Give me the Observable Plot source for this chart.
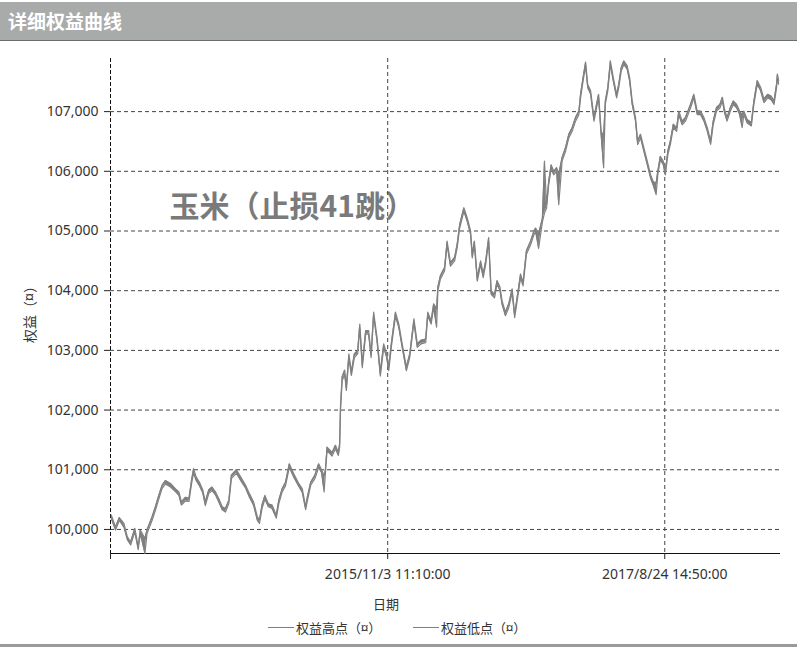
<!DOCTYPE html>
<html><head><meta charset="utf-8">
<script src="https://cdn.jsdelivr.net/npm/d3@7"></script>
<script src="https://cdn.jsdelivr.net/npm/@observablehq/plot@0.6"></script>
<style>
html,body{margin:0;padding:0;background:#fff}
body{width:797px;height:647px;overflow:hidden;position:relative;font-family:"Noto Sans","Noto Sans CJK SC",sans-serif}
#hdr{position:absolute;left:0;top:2px;width:797px;height:38px;background:#a9abab;border-bottom:1px solid #6b6b6b;color:#fff;font:bold 19px "Noto Sans CJK SC",sans-serif;line-height:37px;padding-left:8px;box-sizing:content-box}
#chart{position:absolute;left:0;top:41px}
.lg{position:absolute;top:618px;height:18px;display:flex;align-items:center;font:13px "Noto Sans CJK SC",sans-serif;color:#333}
.lg span.ln{display:inline-block;width:26px;height:1px;background:#7f7f7f;margin-right:2px}
#bot{position:absolute;left:0;top:644px;width:797px;height:3px;background:#9a9a9a}
</style></head>
<body>
<div id="hdr">详细权益曲线</div>
<div id="chart"></div>
<div class="lg" style="left:268px"><span class="ln"></span>权益高点（¤）</div>
<div class="lg" style="left:413px"><span class="ln"></span>权益低点（¤）</div>
<div id="bot"></div>
<script>
const dates = [
"2014-01-14","2014-01-24","2014-02-02","2014-02-13","2014-02-21","2014-03-01","2014-03-11","2014-03-19","2014-03-24","2014-04-04",
"2014-04-09","2014-04-21","2014-04-29","2014-05-07","2014-05-15","2014-05-23","2014-06-04","2014-06-16","2014-06-24","2014-06-30",
"2014-07-10","2014-07-18","2014-07-24","2014-07-29","2014-08-04","2014-08-12","2014-08-20","2014-08-26","2014-09-03","2014-09-11",
"2014-09-19","2014-09-27","2014-10-05","2014-10-13","2014-10-21","2014-10-27","2014-11-08","2014-11-18","2014-11-30","2014-12-09",
"2014-12-19","2014-12-28","2015-01-02","2015-01-08","2015-01-15","2015-01-23","2015-02-01","2015-02-11","2015-02-17","2015-02-25",
"2015-03-05","2015-03-14","2015-03-25","2015-04-04","2015-04-14","2015-04-22","2015-04-26","2015-05-04","2015-05-14","2015-05-23",
"2015-05-30","2015-06-05","2015-06-08","2015-06-12","2015-06-24","2015-07-02","2015-07-09","2015-07-12","2015-07-14","2015-07-18",
"2015-07-24","2015-07-28","2015-08-03","2015-08-09","2015-08-16","2015-08-24","2015-08-29","2015-09-04","2015-09-12","2015-09-19",
"2015-09-25","2015-10-01","2015-10-09","2015-10-17","2015-10-25","2015-11-01","2015-11-06","2015-11-12","2015-11-22","2015-11-30",
"2015-12-08","2015-12-18","2015-12-26","2016-01-05","2016-01-13","2016-01-22","2016-02-02","2016-02-07","2016-02-15","2016-02-21",
"2016-02-28","2016-03-02","2016-03-08","2016-03-18","2016-03-24","2016-04-01","2016-04-11","2016-04-17","2016-04-23","2016-05-03",
"2016-05-11","2016-05-19","2016-05-23","2016-05-28","2016-06-04","2016-06-12","2016-06-18","2016-06-24","2016-07-01","2016-07-07",
"2016-07-15","2016-07-21","2016-07-28","2016-08-02","2016-08-10","2016-08-18","2016-08-26","2016-09-01","2016-09-08","2016-09-15",
"2016-09-21","2016-09-29","2016-10-09","2016-10-17","2016-10-21","2016-10-28","2016-11-06","2016-11-11","2016-11-16","2016-11-21",
"2016-11-27","2016-12-03","2016-12-10","2016-12-15","2016-12-23","2016-12-31","2017-01-08","2017-01-16","2017-01-24","2017-02-01",
"2017-02-05","2017-02-11","2017-02-17","2017-02-22","2017-03-01","2017-03-09","2017-03-15","2017-03-20","2017-03-26","2017-04-01",
"2017-04-05","2017-04-11","2017-04-17","2017-04-24","2017-05-02","2017-05-07","2017-05-13","2017-05-19","2017-05-27","2017-06-02",
"2017-06-08","2017-06-16","2017-06-21","2017-06-28","2017-07-06","2017-07-14","2017-07-22","2017-07-28","2017-08-04","2017-08-08",
"2017-08-14","2017-08-21","2017-08-26","2017-09-01","2017-09-07","2017-09-14","2017-09-22","2017-09-27","2017-10-05","2017-10-13",
"2017-10-19","2017-10-25","2017-11-02","2017-11-10","2017-11-18","2017-11-26","2017-12-04","2017-12-12","2017-12-18","2017-12-26",
"2018-01-03","2018-01-09","2018-01-14","2018-01-20","2018-01-28","2018-02-04","2018-02-12","2018-02-19","2018-02-25","2018-03-01",
"2018-03-09","2018-03-19","2018-03-25","2018-04-02","2018-04-10","2018-04-18","2018-04-27","2018-05-05","2018-05-12","2018-05-18",
"2018-05-20","2018-05-23"];

const equityHigh = [
100240,100040,100200,100100,99880,99790,100020,99710,99990,99850,
99990,100210,100380,100570,100740,100820,100770,100680,100630,100460,
100540,100520,100820,101020,100880,100790,100660,100460,100660,100710,
100630,100520,100380,100350,100490,100910,101000,100880,100740,100600,
100460,100210,100160,100410,100570,100430,100410,100240,100490,100680,
100790,101100,100930,100790,100680,100380,100540,100790,100910,101100,
101000,100900,101000,101380,101290,101410,101290,101440,102060,102560,
102670,102390,102940,102640,102940,103000,103440,102780,103330,103330,
102940,103640,103220,102640,103110,102940,102720,103110,103640,103440,
103110,102720,102940,103530,103110,103170,103190,103640,103500,103780,
103700,104060,104250,104390,104830,104470,104560,104780,105110,105390,
105220,105000,104610,104830,104220,104500,104280,104500,104890,104000,
103940,104170,104060,103830,103640,103780,104030,103610,103940,104280,
104140,104670,104830,105000,105050,104950,105210,106170,105440,105830,
106110,106000,106060,105950,106230,106390,106620,106730,106900,107010,
107290,107570,107830,107460,107350,106900,107120,107290,106670,106600,
107180,107410,107850,107570,107290,107460,107740,107850,107770,107570,
107180,106900,106510,106620,106390,106170,105940,105830,105800,106000,
106250,106170,106000,106340,106510,106790,106730,107010,106840,106900,
107010,107120,107290,107010,107010,106900,106730,106510,106840,107070,
107120,107240,107040,106900,107070,107180,107120,107010,106950,107010,
106870,106820,107180,107520,107410,107210,107290,107260,107180,107460,
107630,107520];

const equityLow = [
100180,99990,100150,100040,99830,99740,99960,99660,99930,99600,
99930,100150,100320,100510,100690,100760,100710,100630,100570,100410,
100480,100470,100760,100950,100820,100730,100610,100400,100600,100650,
100580,100460,100330,100290,100440,100850,100940,100820,100690,100540,
100400,100150,100100,100350,100510,100380,100350,100190,100430,100630,
100730,101040,100870,100740,100620,100330,100480,100740,100850,101040,
100950,100630,100940,101320,101230,101350,101240,101380,101990,102490,
102600,102330,102880,102580,102880,102940,103380,102710,103270,103270,
102880,103580,103160,102570,103050,102880,102660,103050,103570,103380,
103050,102660,102880,103470,103050,103110,103130,103580,103440,103720,
103390,104000,104190,104330,104770,104410,104500,104720,105050,105330,
105160,104940,104550,104770,104160,104440,104220,104440,104830,103940,
103880,104110,104000,103770,103580,103720,103970,103550,103880,104220,
104080,104610,104770,104940,104990,104710,105150,105300,105380,105770,
106050,105940,106000,105440,106170,106330,106560,106670,106840,106950,
107230,107510,107770,107400,107290,106840,107060,107230,106610,106060,
107120,107350,107790,107510,107230,107400,107680,107790,107710,107510,
107120,106840,106450,106560,106330,106110,105880,105770,105610,105940,
106190,106110,105940,106280,106450,106730,106670,106950,106780,106840,
106950,107060,107230,106950,106950,106840,106670,106450,106780,107010,
107060,107180,106980,106840,107010,107120,107060,106950,106730,106950,
106810,106760,107120,107460,107350,107150,107230,107200,107120,107400,
107570,107460];

const xDomain = ["2014-01-12", "2018-05-25"];
const xTickDates = ["2015-11-03T11:10", "2017-08-24T14:50"];
const xTickLabels = ["2015/11/3 11:10:00", "2017/8/24 14:50:00"];
const yDomain = [99597, 107890];
const yTicks = [100000, 101000, 102000, 103000, 104000, 105000, 106000, 107000];
const watermark = "玉米（止损41跳）";
const yLabel = "权益（¤）";
const xLabel = "日期";

const parse = s => new Date(s.length > 10 ? s : s + "T00:00");
const data = dates.map((d, i) => ({date: parse(d), high: equityHigh[i], low: equityLow[i]}));
const x0 = parse(xDomain[0]);
const xt = xTickDates.map(parse);
const labelOf = d => { const i = xt.findIndex(t => +t === +d); return i < 0 ? "" : xTickLabels[i]; };
const font = "'Noto Sans','Noto Sans CJK SC',sans-serif";
const cjk = "'Noto Sans CJK SC',sans-serif";

const chart = Plot.plot({
  width: 797, height: 571,
  marginLeft: 110, marginRight: 18, marginTop: 17, marginBottom: 59,
  style: {fontFamily: font, fontSize: "14px", color: "#222", background: "#fff", overflow: "visible"},
  x: {type: "time", domain: xDomain.map(parse), label: null},
  y: {domain: yDomain, label: null},
  marks: [
    Plot.text([watermark], {frameAnchor: "top-left", dx: 59, dy: 149, textAnchor: "start", lineAnchor: "middle", fontSize: 30, fontWeight: "bold", fill: "#7a7a7a", fontFamily: cjk}),
    Plot.ruleY(yTicks, {stroke: "#444", strokeDasharray: "4,3", strokeWidth: 1}),
    Plot.ruleX(xt, {stroke: "#444", strokeDasharray: "4,3", strokeWidth: 1}),
    Plot.ruleX([x0], {stroke: "#111", strokeDasharray: "4,2", strokeWidth: 1}),
    Plot.frame({anchor: "bottom", stroke: "#111"}),
    Plot.axisY(yTicks, {tickSize: 6, tickPadding: 6, tickFormat: d3.format(","), fontSize: 14, fill: "#333", label: null}),
    Plot.axisX([x0, ...xt], {tickSize: 6, tickPadding: 10, tickFormat: labelOf, fontSize: 14, fill: "#333", label: null}),
    Plot.text([yLabel], {frameAnchor: "left", dx: -80, dy: 5, rotate: -90, textAnchor: "middle", lineAnchor: "middle", fontSize: 14, fill: "#333", fontFamily: cjk}),
    Plot.text([xLabel], {frameAnchor: "bottom", dx: -59, dy: 51, textAnchor: "middle", lineAnchor: "middle", fontSize: 13, fill: "#333", fontFamily: cjk}),
    Plot.areaY(data, {x: "date", y1: "low", y2: "high", fill: "#808080"}),
    Plot.line(data, {x: "date", y: "low", stroke: "#808080", strokeWidth: 1.2}),
    Plot.line(data, {x: "date", y: "high", stroke: "#808080", strokeWidth: 1.2})
  ]
});
document.getElementById("chart").appendChild(chart);
</script>
</body></html>
